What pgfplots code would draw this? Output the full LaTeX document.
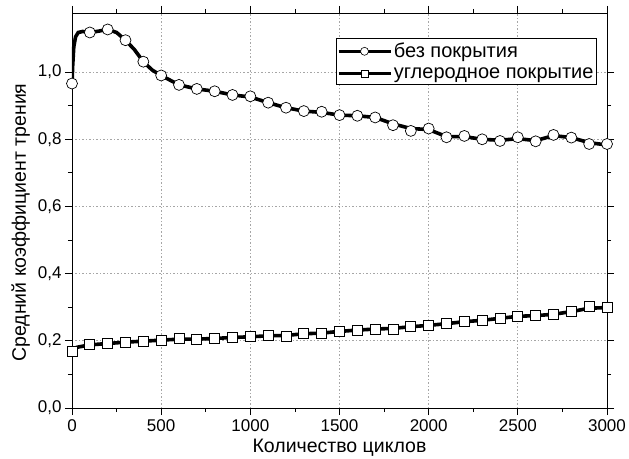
\documentclass[border=0pt]{standalone}
\usepackage{pgfplots}
\pgfplotsset{compat=1.18}
\usepackage{fontspec}
\setmainfont{Liberation Sans}

% friction coefficient vs. cycles
\pgfplotstableread{
x y
0 0.966
4 1.020
10 1.075
20 1.105
35 1.118
60 1.121
100 1.118
150 1.122
200 1.127
250 1.118
300 1.095
350 1.067
400 1.031
450 1.006
500 0.990
600 0.962
700 0.950
800 0.943
900 0.932
1000 0.926
1100 0.909
1200 0.894
1300 0.884
1400 0.880
1500 0.872
1600 0.870
1700 0.865
1800 0.846
1900 0.832
2000 0.829
2100 0.808
2200 0.808
2300 0.800
2400 0.797
2500 0.802
2600 0.796
2700 0.811
2800 0.805
2900 0.790
3000 0.783
}\bare

\pgfplotstableread{
x y
0 0.966
100 1.118
200 1.127
300 1.095
400 1.031
500 0.990
600 0.962
700 0.950
800 0.943
900 0.932
1000 0.928
1100 0.909
1200 0.894
1300 0.884
1400 0.882
1500 0.872
1600 0.870
1700 0.865
1800 0.842
1900 0.825
2000 0.832
2100 0.806
2200 0.810
2300 0.800
2400 0.795
2500 0.806
2600 0.794
2700 0.813
2800 0.805
2900 0.786
3000 0.786
}\baremarks

\pgfplotstableread{
x y
0 0.168
8 0.177
30 0.181
100 0.188
200 0.192
300 0.196
400 0.199
500 0.202
600 0.205
700 0.205
800 0.207
900 0.210
1000 0.212
1100 0.215
1200 0.216
1300 0.221
1400 0.223
1500 0.228
1600 0.232
1700 0.235
1800 0.237
1900 0.242
2000 0.246
2100 0.251
2200 0.257
2300 0.261
2400 0.267
2500 0.273
2600 0.275
2700 0.279
2800 0.287
2900 0.297
3000 0.299
}\coated

\pgfplotstableread{
x y
0 0.168
100 0.190
200 0.192
300 0.196
400 0.199
500 0.202
600 0.206
700 0.204
800 0.207
900 0.210
1000 0.212
1100 0.216
1200 0.214
1300 0.222
1400 0.223
1500 0.228
1600 0.232
1700 0.235
1800 0.235
1900 0.242
2000 0.246
2100 0.251
2200 0.258
2300 0.261
2400 0.268
2500 0.274
2600 0.275
2700 0.278
2800 0.287
2900 0.303
3000 0.299
}\coatedmarks

\begin{document}
\begin{tikzpicture}
  \begin{axis}[
      scale only axis,
      width=535bp, height=395bp,
      xmin=0, xmax=3000,
      ymin=0, ymax=1.176,
      xtick={0,500,...,3000},
      ytick={0,0.2,...,1.0},
      minor x tick num=1,
      minor y tick num=1,
      tick align=outside,
      major tick length=7bp,
      minor tick length=4bp,
      every tick/.style={black, line width=0.8bp},
      axis line style={line width=0.9bp},
      grid=major,
      major grid style={gray!70, line width=0.7bp, dash pattern=on 1.5bp off 2bp},
      /pgf/number format/assume math mode=true,
      x tick label style={/pgf/number format/1000 sep={}},
      y tick label style={/pgf/number format/.cd, use comma, fixed, fixed zerofill, precision=1},
      tick label style={font=\fontsize{17bp}{20bp}\selectfont},
      xticklabel shift=1bp,
      label style={font=\fontsize{19.5bp}{23bp}\selectfont},
      xlabel={Количество циклов},
      ylabel={Средний коэффициент трения},
      xlabel style={yshift=-1bp},
      ylabel style={yshift=1bp, xshift=-12bp},
      legend style={at={(0.981,0.937)}, anchor=north east,
        font=\fontsize{20bp}{24bp}\selectfont,
        draw=black, line width=0.7bp, inner xsep=1bp, inner ysep=3bp,
        row sep=4bp},
      legend cell align=left,
      legend image code/.code={%
        \draw[mark repeat=2, mark phase=2, line width=2.7bp]
          plot coordinates {(0bp,0bp) (26bp,0bp) (52bp,0bp)};},
    ]
    \addlegendimage{black, line width=2.7bp, mark=*, mark size=4bp,
      mark options={draw=black, fill=white, line width=0.6bp}}
    \addlegendentry{без покрытия}
    \addlegendimage{black, line width=2.7bp, mark=square*, mark size=3.3bp,
      mark options={draw=black, fill=white, line width=0.6bp}}
    \addlegendentry{углеродное покрытие}

    \addplot[black, line width=3.6bp, no marks, forget plot] table {\bare};
    \addplot[only marks, mark=*, mark size=5.5bp, forget plot,
      mark options={draw=black, fill=white, line width=0.7bp}] table {\baremarks};
    \addplot[black, line width=3.6bp, no marks, forget plot] table {\coated};
    \addplot[only marks, mark=square*, mark size=5bp, forget plot,
      mark options={draw=black, fill=white, line width=0.7bp}] table {\coatedmarks};
  \end{axis}
  \pgfresetboundingbox
  \path[use as bounding box] (-72bp,-51bp) rectangle (557bp,408bp);
\end{tikzpicture}
\end{document}
